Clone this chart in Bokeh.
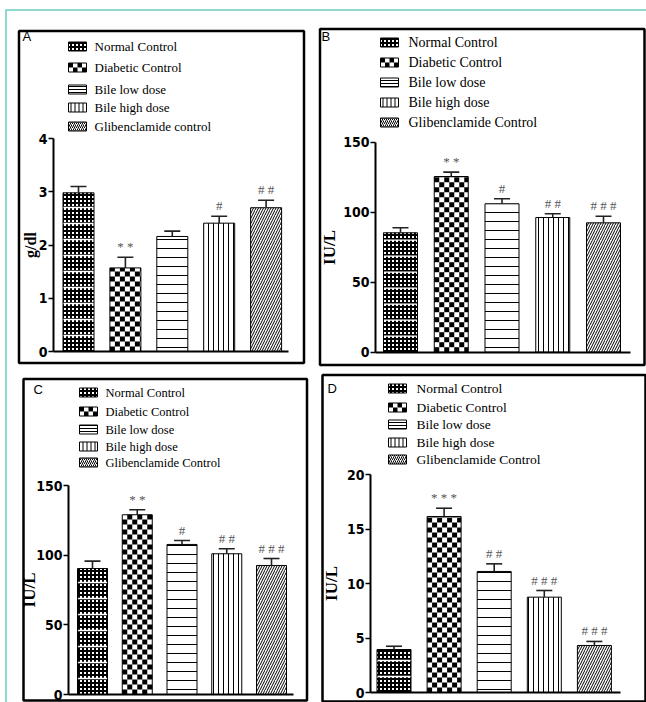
import math
from bokeh.plotting import figure
from bokeh.models import Range1d, LinearAxis, FixedTicker, ColumnDataSource
from bokeh.core.properties import value
from bokeh.embed import file_html
from bokeh.resources import INLINE

# ---------------- data ----------------
groups = ["Normal Control", "Diabetic Control", "Bile low dose", "Bile high dose", "Glibenclamide Control"]
groups_a = ["Normal Control", "Diabetic Control", "Bile low dose", "Bile high dose", "Glibenclamide control"]

a_values = [2.98, 1.57, 2.16, 2.41, 2.70]
a_errors = [0.12, 0.20, 0.10, 0.13, 0.14]
a_marks = ["", "* *", "", "#", "# #"]
a_ticks = [0, 1, 2, 3, 4]
a_ylabel = "g/dl"

b_values = [85.3, 125.5, 106.0, 96.2, 92.4]
b_errors = [3.6, 3.1, 3.6, 2.7, 4.7]
b_marks = ["", "* *", "#", "# #", "# # #"]
b_ticks = [0, 50, 100, 150]
b_ylabel = "IU/L"

c_values = [90.4, 129.0, 107.7, 101.0, 92.6]
c_errors = [5.3, 3.6, 2.8, 3.6, 5.0]
c_marks = ["", "* *", "#", "# #", "# # #"]
c_ticks = [0, 50, 100, 150]
c_ylabel = "IU/L"

d_values = [3.95, 16.17, 11.12, 8.76, 4.32]
d_errors = [0.30, 0.76, 0.70, 0.61, 0.37]
d_marks = ["", "* * *", "# #", "# # #", "# # #"]
d_ticks = [0, 5, 10, 15, 20]
d_ylabel = "IU/L"

panel_letters = ["A", "B", "C", "D"]

# ---------------- styling ----------------
PATTERNS = ["cross", "blank", "horizontal_line", "vertical_line", "right_diagonal_line"]
SCALES = [4, 10, 9, 5, 5]
LEGEND_SCALES = [4, 10, 3, 4, 4]
WEIGHTS = [2, 1, 1, 1, 1]
CHECK_PX = 5        # checkerboard cell size (px) for the Diabetic Control bars
BAND_PX = 16        # white band spacing (px) inside the Normal Control bars
TICK_FONT = "Liberation Sans Narrow, Arial Narrow, DejaVu Sans Condensed, sans-serif"

# page geometry (canvas pixels)
GEOM = {
    "A": dict(box=(18.5, 30.5, 303.5, 362.5), yaxis=53, xend=288, c0=78, pitch=46.9, bw=31,
              y0=351, ytop=138, letter=(22, 36), swx=68, tx=94, rows=[46, 67, 89, 107, 126],
              lfs="13px", standoff=-3, yfs="16px"),
    "B": dict(box=(319.5, 28.5, 644, 364.5), yaxis=375, xend=630, c0=400, pitch=50.75, bw=34,
              y0=351.7, ytop=141.7, letter=(321, 36), swx=380, tx=408, rows=[42, 62, 82, 102, 122],
              lfs="14px", standoff=1, yfs="17px"),
    "C": dict(box=(23, 378.5, 306.5, 700), yaxis=68, xend=293, c0=92, pitch=44.75, bw=30,
              y0=694, ytop=485, letter=(33, 389), swx=79, tx=105, rows=[392, 411, 429, 446, 462],
              lfs="12.5px", standoff=-6, yfs="17px"),
    "D": dict(box=(322, 374.5, 645, 701), yaxis=370, xend=620, c0=393.5, pitch=50.1, bw=34,
              y0=692, ytop=474.3, letter=(327, 388), swx=388, tx=416, rows=[388, 407, 424, 442, 459],
              lfs="13.5px", standoff=3, yfs="17px"),
}

W, H = 646, 702

p = figure(width=W, height=H, x_range=Range1d(0, W), y_range=Range1d(H, 0),
           x_axis_type=None, y_axis_type=None, toolbar_location=None, output_backend="svg",
           min_border=0, min_border_left=0, min_border_right=0, min_border_top=0, min_border_bottom=0,
           outline_line_color=None, background_fill_color="white", border_fill_color="white")

# teal frame
p.segment(x0=[5.5, 5], y0=[9.5, 9.5], x1=[5.5, W], y1=[H, 9.5], line_color="#6ccbbf", line_width=1.5)

# panel boxes
p.quad(left=[GEOM[k]["box"][0] for k in "ABCD"], right=[GEOM[k]["box"][2] for k in "ABCD"],
       top=[GEOM[k]["box"][1] for k in "ABCD"], bottom=[GEOM[k]["box"][3] for k in "ABCD"],
       fill_color=None, line_color="black", line_width=2.5)

# panel letters
p.text(x=[GEOM[k]["letter"][0] for k in "ABCD"], y=[GEOM[k]["letter"][1] for k in "ABCD"],
       text=panel_letters, text_font=value("Liberation Sans"), text_font_size="13px",
       text_baseline="middle", text_align="left", text_color="black")

extra_x, extra_y = {}, {}


def checker(x0, x1, y0, y1, cw, ch):
    """Cells of a checkerboard filling the rectangle [x0,x1] x [y0,y1] (starting at corner x0,y0)."""
    L, R, T, B = [], [], [], []
    ncol = int(math.ceil(abs(x1 - x0) / cw - 1e-9))
    nrow = int(math.ceil(abs(y1 - y0) / ch - 1e-9))
    sy = 1 if y1 >= y0 else -1
    for j in range(nrow):
        for i in range(ncol):
            if (i + j) % 2 == 0:
                l = x0 + i * cw
                r = min(l + cw, x1)
                b = y0 + sy * j * ch
                t = b + sy * ch
                t = min(t, y1) if sy > 0 else max(t, y1)
                L.append(l); R.append(r); B.append(b); T.append(t)
    return L, R, T, B


def draw_panel(key, vals, errs, marks, ticks, ylabel, labels):
    g = GEOM[key]
    s = (g["y0"] - g["ytop"]) / ticks[-1]          # px per data unit
    extra_y[key] = Range1d(start=-(H - g["y0"]) / s, end=g["y0"] / s)
    extra_x[key] = Range1d(start=(0 - g["c0"]) / g["pitch"], end=(W - g["c0"]) / g["pitch"])
    rk = dict(x_range_name=key, y_range_name=key)
    xs = list(range(len(vals)))
    bw = g["bw"] / g["pitch"]
    hi = [v + e for v, e in zip(vals, errs)]
    cap = 8 / g["pitch"]
    src = ColumnDataSource(dict(x=xs, top=vals, hi=hi, pat=PATTERNS, hs=SCALES, hw=WEIGHTS, sig=marks,
                                xl=[x - cap for x in xs], xr=[x + cap for x in xs]))
    # hatched fill
    p.vbar(x="x", top="top", bottom=0, width=bw, source=src, fill_color="white", line_color=None,
           hatch_pattern="pat", hatch_scale="hs", hatch_weight="hw", hatch_color="black", **rk)
    # checkerboard for Diabetic Control
    L, R, T, B = checker(xs[1] - bw / 2, xs[1] + bw / 2, 0, vals[1], CHECK_PX / g["pitch"], CHECK_PX / s)
    p.quad(left=L, right=R, top=T, bottom=B, fill_color="black", line_color=None, **rk)
    # white bands in Normal Control
    nb = int(vals[0] * s / BAND_PX)
    ys = [j * BAND_PX / s for j in range(1, nb + 1) if j * BAND_PX / s < vals[0] - 2 / s]
    p.segment(x0=[xs[0] - bw / 2] * len(ys), x1=[xs[0] + bw / 2] * len(ys), y0=ys, y1=ys,
              line_color="white", line_width=1.3, **rk)
    # outline
    p.vbar(x="x", top="top", bottom=0, width=bw, source=src, fill_color=None, line_color="black",
           line_width=1, **rk)
    # error bars
    p.segment(x0="x", y0="top", x1="x", y1="hi", source=src, line_color="#222222", line_width=1.6, **rk)
    p.segment(x0="xl", y0="hi", x1="xr", y1="hi", source=src, line_color="#222222", line_width=1.6, **rk)
    p.text(x="x", y="hi", text="sig", source=src, text_align="center", text_baseline="bottom", y_offset=-3,
           text_font=value("Liberation Serif"), text_font_size="13px", text_color="#555555", **rk)

    yax = LinearAxis(fixed_location=(g["yaxis"] - g["c0"]) / g["pitch"],
                     bounds=(0, ticks[-1]), ticker=FixedTicker(ticks=ticks, minor_ticks=[]),
                     axis_line_width=2, axis_line_color="black",
                     major_tick_out=5, major_tick_in=0, major_tick_line_width=1.5,
                     minor_tick_out=0, minor_tick_in=0,
                     major_label_text_font=TICK_FONT, major_label_text_font_style="bold",
                     major_label_text_font_size="14px", major_label_standoff=1,
                     major_label_text_color="black",
                     axis_label=ylabel, axis_label_text_font="Liberation Serif",
                     axis_label_text_font_style="bold", axis_label_text_font_size=g["yfs"],
                     axis_label_standoff=g["standoff"], axis_label_text_color="black", **rk)
    p.add_layout(yax, "left")
    xax = LinearAxis(fixed_location=0,
                     bounds=((g["yaxis"] - g["c0"]) / g["pitch"], (g["xend"] - g["c0"]) / g["pitch"]),
                     ticker=FixedTicker(ticks=[], minor_ticks=[]),
                     axis_line_width=2, axis_line_color="black",
                     major_tick_out=0, major_tick_in=0, minor_tick_out=0, minor_tick_in=0,
                     major_label_text_font_size="0px", **rk)
    p.add_layout(xax, "below")

    # legend
    rows = g["rows"]
    lsrc = ColumnDataSource(dict(l=[g["swx"]] * 5, r=[g["swx"] + 18] * 5,
                                 t=[y - 4.5 for y in rows], b=[y + 4.5 for y in rows],
                                 pat=PATTERNS, hs=LEGEND_SCALES, hw=WEIGHTS, label=labels,
                                 tx=[g["tx"]] * 5, ty=rows))
    p.quad(left="l", right="r", top="t", bottom="b", source=lsrc, fill_color="white", line_color=None,
           hatch_pattern="pat", hatch_scale="hs", hatch_weight="hw", hatch_color="black")
    L, R, T, B = checker(g["swx"], g["swx"] + 18, rows[1] - 4.5, rows[1] + 4.5, 4.5, 4.5)
    p.quad(left=L, right=R, top=T, bottom=B, fill_color="black", line_color=None)
    p.quad(left="l", right="r", top="t", bottom="b", source=lsrc, fill_color=None,
           line_color="black", line_width=1)
    p.text(x="tx", y="ty", text="label", source=lsrc, text_baseline="middle", text_align="left",
           text_font=value("Liberation Serif"), text_font_size=g["lfs"], text_color="black")


draw_panel("A", a_values, a_errors, a_marks, a_ticks, a_ylabel, groups_a)
draw_panel("B", b_values, b_errors, b_marks, b_ticks, b_ylabel, groups)
draw_panel("C", c_values, c_errors, c_marks, c_ticks, c_ylabel, groups)
draw_panel("D", d_values, d_errors, d_marks, d_ticks, d_ylabel, groups)

p.extra_x_ranges = extra_x
p.extra_y_ranges = extra_y

open("out.html", "w").write(file_html(p, INLINE))
